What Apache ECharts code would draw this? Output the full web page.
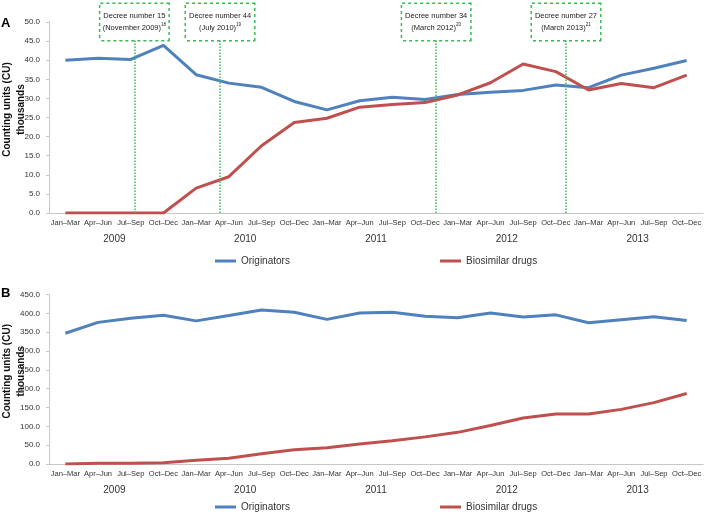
<!DOCTYPE html>
<html><head><meta charset="utf-8">
<script src="https://cdn.jsdelivr.net/npm/echarts@6/dist/echarts.min.js"></script>
<style>html,body{margin:0;padding:0;background:#fff}#c{width:707px;height:512px}</style>
</head><body><div id="c"></div>
<script>
const quarters = ['Jan–Mar','Apr–Jun','Jul–Sep','Oct–Dec','Jan–Mar','Apr–Jun','Jul–Sep','Oct–Dec','Jan–Mar','Apr–Jun','Jul–Sep','Oct–Dec','Jan–Mar','Apr–Jun','Jul–Sep','Oct–Dec','Jan–Mar','Apr–Jun','Jul–Sep','Oct–Dec'];
const years = ['2009','2010','2011','2012','2013'];
const seriesNames = ['Originators','Biosimilar drugs'];
const originatorsA = [40.0,40.5,40.2,43.9,36.2,34.0,32.9,29.2,27.0,29.4,30.3,29.7,31.0,31.6,32.1,33.5,32.8,36.1,37.9,39.9];
const biosimilarA  = [0,0,0,0,6.5,9.5,17.6,23.7,24.8,27.7,28.4,28.9,30.9,34.1,39.0,37.0,32.2,33.9,32.8,36.1];
const originatorsB = [347,376,387,395,380,394,409,403,384,401,403,392,388,401,390,396,375,383,391,381];
const biosimilarB  = [0,2,2,3,10,15,27,38,43,53,62,72,84,102,122,133,133,145,163,187];
const decreePos = [2.11, 4.73, 11.34, 15.31];
const decreeTitle = ['Decree number 15','Decree number 44','Decree number 34','Decree number 27'];
const decreeDate = ['(November 2009)','(July 2010)','(March 2012)','(March 2013)'];
const decreeRef = ['18','19','20','21'];
const decreeTop = 45.3;

const FONT = 'Liberation Sans, Arial, sans-serif';
const BLUE = '#4f81bd', RED = '#c0504d', GREEN = '#3cba54', GRID = '#c8c8c8', TXT = '#333';

const grids = [
  {left:49, top:22, width:654, height:191, containLabel:false, outerBoundsMode:'none'},
  {left:49, top:294.5, width:654, height:169.5, containLabel:false, outerBoundsMode:'none'}
];

function xAxes(g){
  return [
    {type:'category', gridIndex:g, data:quarters, boundaryGap:true, position:'bottom',
     axisLine:{lineStyle:{color:GRID}}, axisTick:{length:16, lineStyle:{color:GRID}},
     axisLabel:{fontSize:7.5, color:TXT, fontFamily:FONT, margin:6, interval:0, hideOverlap:false}},
    {type:'category', gridIndex:g, data:years, boundaryGap:true, position:'bottom',
     axisLine:{lineStyle:{color:GRID}}, axisTick:{length:33, lineStyle:{color:GRID}},
     axisLabel:{fontSize:10, color:TXT, fontFamily:FONT, margin:21, interval:0}},
    {type:'value', gridIndex:g, min:-0.5, max:19.5, show:false}
  ];
}
function yAxis(g, max, step){
  return {type:'value', gridIndex:g, min:0, max:max, interval:step,
    name:'Counting units (CU)\nthousands', nameLocation:'middle', nameGap:21, nameMoveOverlap:false,
    nameTextStyle:{fontSize:10, fontWeight:'bold', color:'#111', fontFamily:FONT, lineHeight:14, padding:[0,0,0,16]},
    axisLine:{show:true, onZero:false, lineStyle:{color:GRID}},
    axisTick:{show:true, length:3, lineStyle:{color:GRID}},
    splitLine:{show:false},
    axisLabel:{fontSize:8, color:TXT, fontFamily:FONT, margin:9, formatter:v=>v.toFixed(1)}};
}

const xA = xAxes(0).concat(xAxes(1));
const yA = [yAxis(0,50,5), yAxis(1,450,50)];

function lineSeries(name, data, color, xi, yi){
  return {name:name, type:'line', data:data, xAxisIndex:xi, yAxisIndex:yi, symbol:'none',
    lineStyle:{color:color, width:3}, itemStyle:{color:color}, z:3};
}

const markData = decreePos.map((p,i)=>[
  {coord:[p,0]},
  {coord:[p,decreeTop], label:{
    formatter:'{a|'+decreeTitle[i]+'}\n{a|'+decreeDate[i]+'}{s|'+decreeRef[i]+'}'}}
]);

const series = [
  lineSeries(seriesNames[0], originatorsA, BLUE, 0, 0),
  lineSeries(seriesNames[1], biosimilarA, RED, 0, 0),
  {type:'line', xAxisIndex:2, yAxisIndex:0, data:[], z:5,
   markLine:{symbol:'none', silent:true, animation:false,
     lineStyle:{color:GREEN, type:'dotted', width:1.5},
     label:{show:true, position:'end', distance:0, backgroundColor:'#fff',
       borderColor:GREEN, borderType:'dotted', borderWidth:1.5, padding:[6,3,6,3],
       width:62, align:'center',
       rich:{a:{fontSize:7.5, color:'#222', fontFamily:FONT, lineHeight:12, align:'center'},
             s:{fontSize:4.5, color:'#222', fontFamily:FONT, lineHeight:12, verticalAlign:'top', padding:[0,0,5,0]}}},
     data:markData}},
  lineSeries(seriesNames[0], originatorsB, BLUE, 3, 1),
  lineSeries(seriesNames[1], biosimilarB, RED, 3, 1)
];

function legend(top, name, left){
  return {top:top, left:left, data:[name], icon:'rect', itemWidth:21, itemHeight:3, itemGap:10,
    textStyle:{fontSize:10, color:TXT, fontFamily:FONT}, selectedMode:false};
}

const chart = echarts.init(document.getElementById('c'), null, {renderer:'canvas'});
chart.setOption({
  animation:false,
  backgroundColor:'#fff',
  grid:grids,
  xAxis:xA,
  yAxis:yA,
  legend:[legend(251, seriesNames[0], 210), legend(251, seriesNames[1], 435),
          legend(497, seriesNames[0], 210), legend(497, seriesNames[1], 435)],
  graphic:[
    {type:'text', left:1, top:17, style:{text:'A', font:'bold 13px '+FONT, fill:'#000'}},
    {type:'text', left:1, top:287, style:{text:'B', font:'bold 13px '+FONT, fill:'#000'}}
  ],
  series:series
});
</script></body></html>
